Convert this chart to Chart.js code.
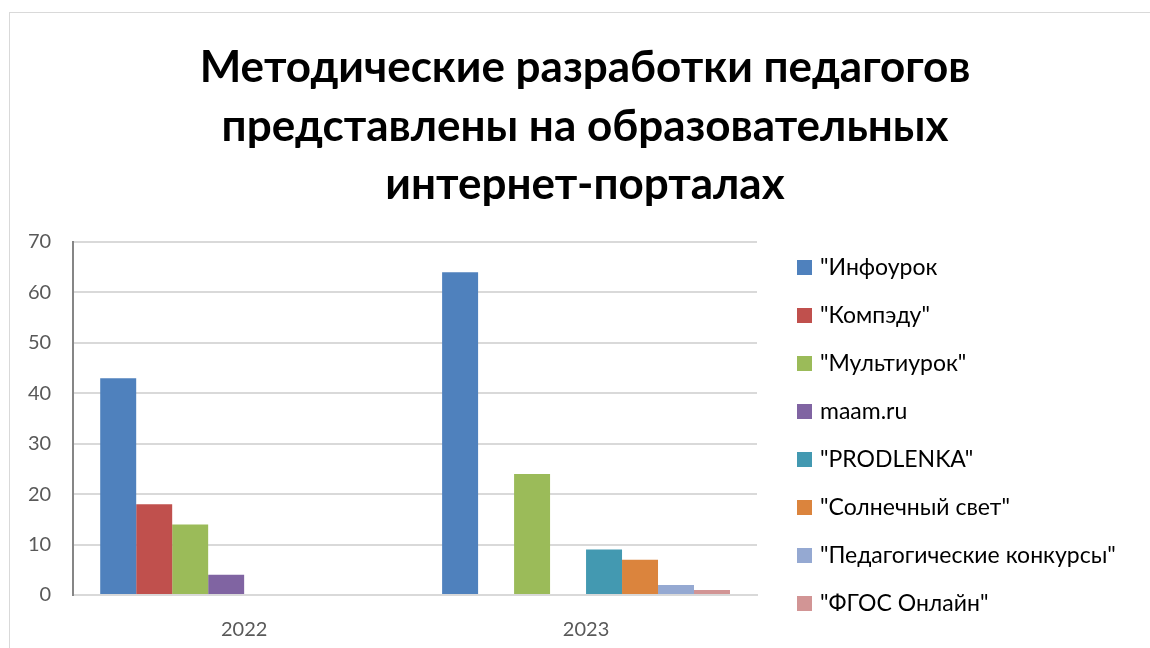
<!DOCTYPE html>
<html>
<head>
<meta charset="utf-8">
<script src="https://cdn.jsdelivr.net/npm/chart.js@4/dist/chart.umd.min.js"></script>
<style>
  body { margin: 0; background: #fff; }
  #frame { position: absolute; left: 9px; top: 12px; width: 1160px; height: 660px; border: 1px solid #d9d9d9; }
  #wrap { position: absolute; left: 0; top: 0; width: 1150px; height: 648px; }
</style>
</head>
<body>
<div id="frame"></div>
<div id="wrap"><canvas id="chart"></canvas></div>
<script>
const years = ['2022', '2023'];
const seriesNames = ['"Инфоурок', '"Компэду"', '"Мультиурок"', 'maam.ru', '"PRODLENKA"', '"Солнечный свет"', '"Педагогические конкурсы"', '"ФГОС Онлайн"'];
const infourok = [43, 64];
const kompedu = [18, 0];
const multiurok = [14, 24];
const maam = [4, 0];
const prodlenka = [0, 9];
const solnechny = [0, 7];
const pedKonkursy = [0, 2];
const fgos = [0, 1];
const yTicks = [0, 10, 20, 30, 40, 50, 60, 70];
const titleLines = ['Методические разработки педагогов', 'представлены на образовательных', 'интернет-порталах'];

const colors = ['#4F81BD', '#C0504D', '#9BBB59', '#8064A2', '#4399B1', '#DB843D', '#95A9D2', '#D29595'];
const values = [infourok, kompedu, multiurok, maam, prodlenka, solnechny, pedKonkursy, fgos];

// title + legend drawn by hand so the right-hand space doesn't shift the title
const titleLegend = {
    id: 'titleLegend',
    afterDraw(chart) {
        const c = chart.ctx;
        const area = chart.chartArea;
        c.save();
        c.fillStyle = '#000';
        c.textAlign = 'center';
        c.textBaseline = 'middle';
        c.font = 'bold 44px Lato';
        titleLines.forEach((t, i) => c.fillText(t, 585, 68 + i * 58.5));

        c.textAlign = 'left';
        c.font = '23px Lato';
        chart.data.datasets.forEach((ds, i) => {
            const y = area.top + 25 + i * 48;
            c.fillStyle = ds.backgroundColor;
            c.fillRect(area.right + 40, y - 7, 15, 15);
            c.fillStyle = '#000';
            c.fillText(ds.label, area.right + 63, y + 1);
        });
        c.restore();
    }
};

const ctx = document.getElementById('chart').getContext('2d');

new Chart(ctx, {
    type: 'bar',
    data: {
        labels: years,
        datasets: seriesNames.map((name, i) => ({
            label: name,
            data: values[i],
            backgroundColor: colors[i],
            borderWidth: 0,
            barPercentage: 1,
            categoryPercentage: 0.842,
        })),
    },
    options: {
        responsive: true,
        maintainAspectRatio: false,
        animation: false,
        layout: { padding: { top: 242, left: 6, right: 393, bottom: -17 } },
        plugins: {
            title: { display: false },
            legend: { display: false },
            tooltip: { enabled: false },
        },
        scales: {
            x: {
                grid: { display: false, drawTicks: false },
                border: { color: '#d9d9d9', width: 2 },
                ticks: { color: '#595959', padding: 25, font: { family: 'Lato', size: 20, lineHeight: 1 } },
            },
            y: {
                min: 0,
                max: 70,
                afterBuildTicks: (axis) => { axis.ticks = yTicks.map(v => ({ value: v })); },
                grid: { color: '#d9d9d9', lineWidth: 2, drawTicks: false },
                border: { color: '#868686', width: 2 },
                ticks: { color: '#595959', padding: 22, font: { family: 'Lato', size: 20 } },
            },
        },
    },
    plugins: [titleLegend],
});
</script>
</body>
</html>
